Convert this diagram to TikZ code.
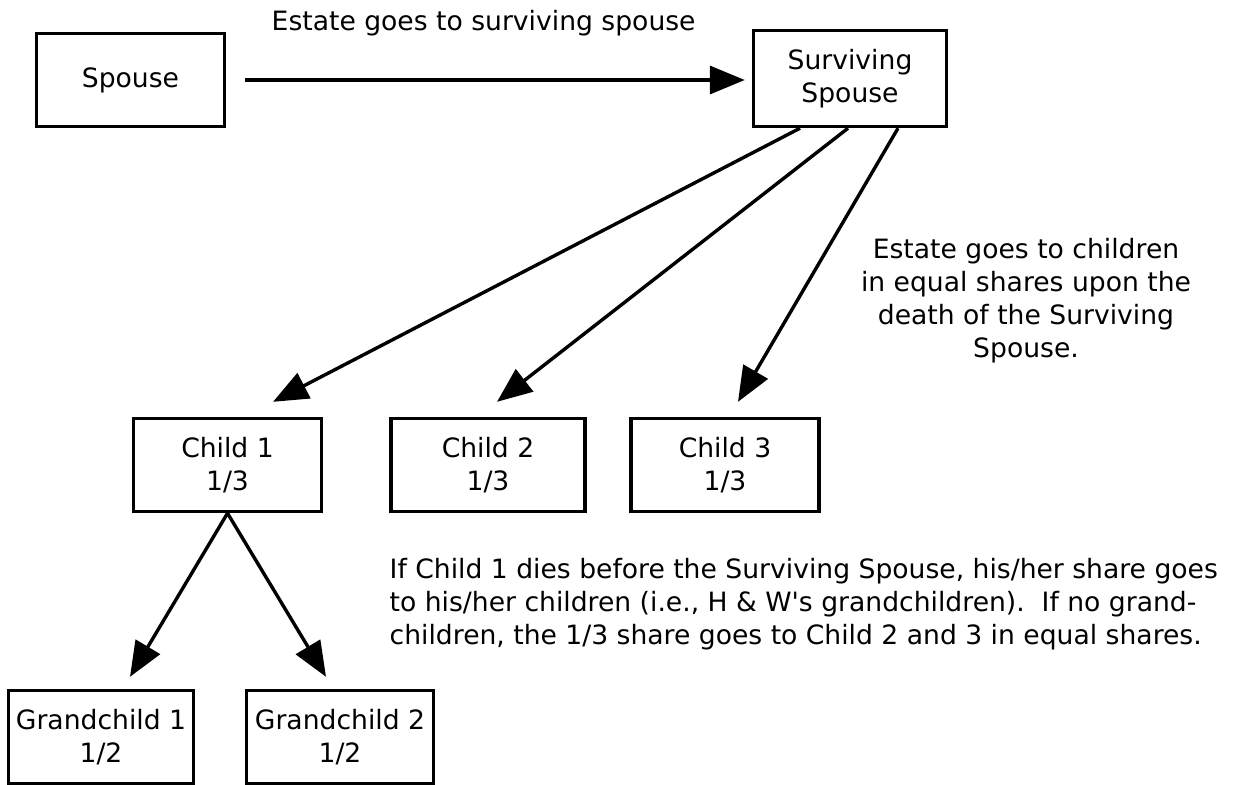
\documentclass[tikz,border=0pt]{standalone}
\usepackage{fontspec}
\setmainfont{DejaVu Sans}
\usepackage{tikz}
\usetikzlibrary{arrows.meta,positioning}

\begin{document}
\begin{tikzpicture}[x=0.5pt, y=-0.5pt, line width=1.7pt,
    >={Triangle[length=17.5pt,width=14pt]},
    font=\fontsize{13.3pt}{16.5pt}\selectfont,
    box/.style={draw, align=center, inner sep=0pt,
        minimum width=94pt, minimum height=46.5pt},
    note/.style={inner sep=0pt}]
    \useasboundingbox (0,0) rectangle (1242,784);

    % Spouses
    \node [box] (Spouse) at (130.5,80) {Spouse};
    \node [box,
        minimum width=96.5pt,
        minimum height=48pt
    ] (SurvivingSpouse) at (850,78.5) {Surviving\\Spouse};
    \draw[->, shorten <=9.5pt, shorten >=3.5pt] (Spouse.east) -- (Spouse.east -| SurvivingSpouse.west);
    \node [note, anchor=base west] (SpouseNote) at (270,30) {Estate goes to surviving spouse};

    % Children
    \node [box] (Child1) at (227.5,465) {Child 1\\1/3};
    \node [box, minimum width=97pt] (Child2) at (488,465) {Child 2\\1/3};
    \node [box] (Child3) at (725,465) {Child 3\\1/3};
    \draw[->] ([xshift=-25pt]SurvivingSpouse.south) -- ([xshift=22.75pt,yshift=7.5pt]Child1.north);
    \draw[->] ([xshift=-1pt]SurvivingSpouse.south) -- ([xshift=4.5pt,yshift=7.5pt]Child2.north);
    \draw[->] ([xshift=24pt]SurvivingSpouse.south) -- ([xshift=6.5pt,yshift=7.5pt]Child3.north);
    \node [note, align=center, anchor=north] (ChildrenNote) at (1026,237)
        {Estate goes to children\\in equal shares upon the\\death of the Surviving\\Spouse.};

    % Grandchildren
    \node [box, minimum width=92.5pt] (Grandchild1) at (101,737) {Grandchild 1\\1/2};
    \node [box, minimum width=93.5pt] (Grandchild2) at (340,737) {Grandchild 2\\1/2};
    \draw[->] (Child1.south) -- ([xshift=14.5pt,yshift=6pt]Grandchild1.north);
    \draw[->] (Child1.south) -- ([xshift=-7pt,yshift=6pt]Grandchild2.north);
    \node [note, align=left, anchor=north west] (GrandchildNote) at (388,557)
        {If Child 1 dies before the Surviving Spouse, his/her share goes\\
         to his/her children (i.e., H \& W\textquotesingle s grandchildren).\ \ If no grand-\\
         children, the 1/3 share goes to Child 2 and 3 in equal shares.};
\end{tikzpicture}
\end{document}
